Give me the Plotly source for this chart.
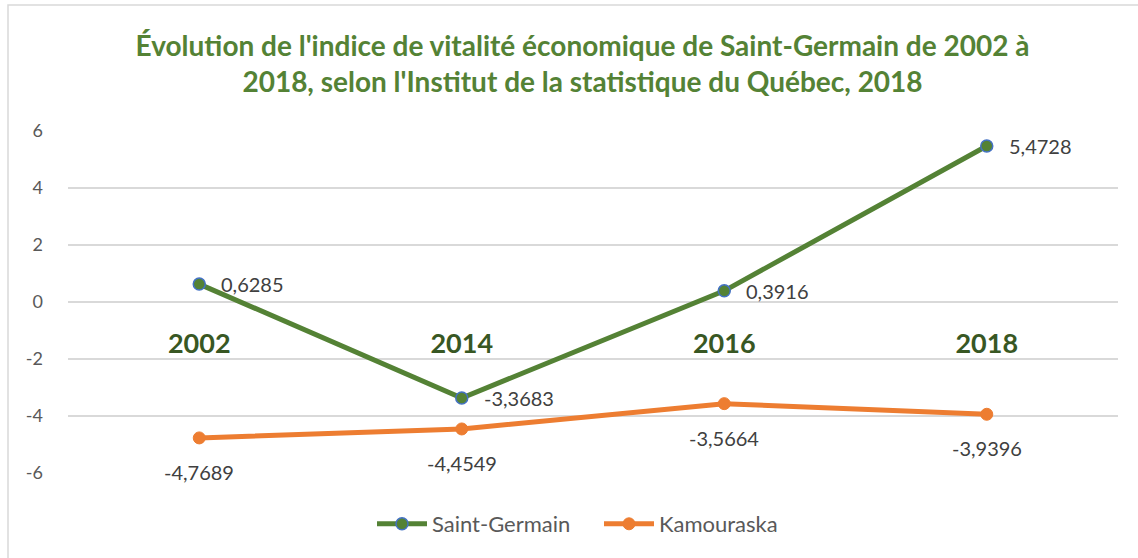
import plotly.graph_objects as go

years = ["2002", "2014", "2016", "2018"]
saint_germain = [0.6285, -3.3683, 0.3916, 5.4728]
kamouraska = [-4.7689, -4.4549, -3.5664, -3.9396]
y_ticks = [-6, -4, -2, 0, 2, 4, 6]

title_text = ("Évolution de l'indice de vitalité économique de Saint-Germain de 2002 à<br>"
              "2018, selon l'Institut de la statistique du Québec, 2018")

GREEN = "#548235"
ORANGE = "#ED7D31"
FONT = "Lato"

W, H = 1138, 558
L, R, T, B = 68, 20, 131, 85
pw, ph = W - L - R, H - T - B

def fmt(v):
    return f"{v:.4f}".replace(".", ",")

fig = go.Figure()
fig.add_trace(go.Scatter(
    x=years, y=saint_germain, name="Saint-Germain", mode="lines+markers",
    line=dict(color=GREEN, width=5),
    marker=dict(size=12, color=GREEN, line=dict(color="#4472C4", width=1.5)),
))
fig.add_trace(go.Scatter(
    x=years, y=kamouraska, name="Kamouraska", mode="lines+markers",
    line=dict(color=ORANGE, width=5),
    marker=dict(size=12, color=ORANGE, line=dict(color=ORANGE, width=1)),
))

annotations = []
for i, v in enumerate(saint_germain):
    annotations.append(dict(x=i, y=v, text=fmt(v), showarrow=False, xanchor="left",
                            yanchor="middle", xshift=20,
                            font=dict(family=FONT, size=20, color="#404040")))
for i, v in enumerate(kamouraska):
    annotations.append(dict(x=i, y=v, text=fmt(v), showarrow=False, xanchor="center",
                            yanchor="middle", yshift=-34,
                            font=dict(family=FONT, size=20, color="#404040")))

fig.update_layout(
    width=W, height=H,
    margin=dict(l=L, r=R, t=T, b=B, autoexpand=False),
    paper_bgcolor="white", plot_bgcolor="white",
    font=dict(family=FONT, color="#595959"),
    title=dict(text=title_text, x=0.49, xanchor="center", xref="paper",
               y=1 - 56 / H, yanchor="top", yref="container",
               font=dict(family=FONT, size=28, color=GREEN, weight="bold")),
    xaxis=dict(type="category", range=[-0.5, len(years) - 0.5], anchor="free",
               position=0.5, showgrid=False,
               showline=False, zeroline=False, ticks="", ticklabelstandoff=23,
               tickfont=dict(family=FONT, size=27, color="#385723", weight="bold")),
    yaxis=dict(range=[-6, 6], tickvals=y_ticks,
               ticktext=[str(t) for t in y_ticks], showgrid=True,
               gridcolor="#D9D9D9", gridwidth=1.5, zeroline=False, showline=False,
               ticks="", ticklabelstandoff=24,
               tickfont=dict(family=FONT, size=18, color="#595959")),
    legend=dict(orientation="h", x=(372 - L) / pw, xanchor="left", y=(T + ph - 524) / ph,
                yanchor="middle", font=dict(family=FONT, size=22, color="#595959"),
                itemwidth=50, entrywidth=162, entrywidthmode="pixels"),
    annotations=annotations,
    shapes=[dict(type="rect", xref="paper", yref="paper",
                 x0=(8 - L) / pw, x1=(W + 10 - L) / pw,
                 y0=(T + ph - (H + 10)) / ph, y1=(T + ph - 5) / ph,
                 line=dict(color="#D9D9D9", width=1.5), layer="below")],
)

fig.write_html("out.html", config={"displayModeBar": False},
               post_script="document.body.style.margin='0';document.body.style.overflow='hidden';")
